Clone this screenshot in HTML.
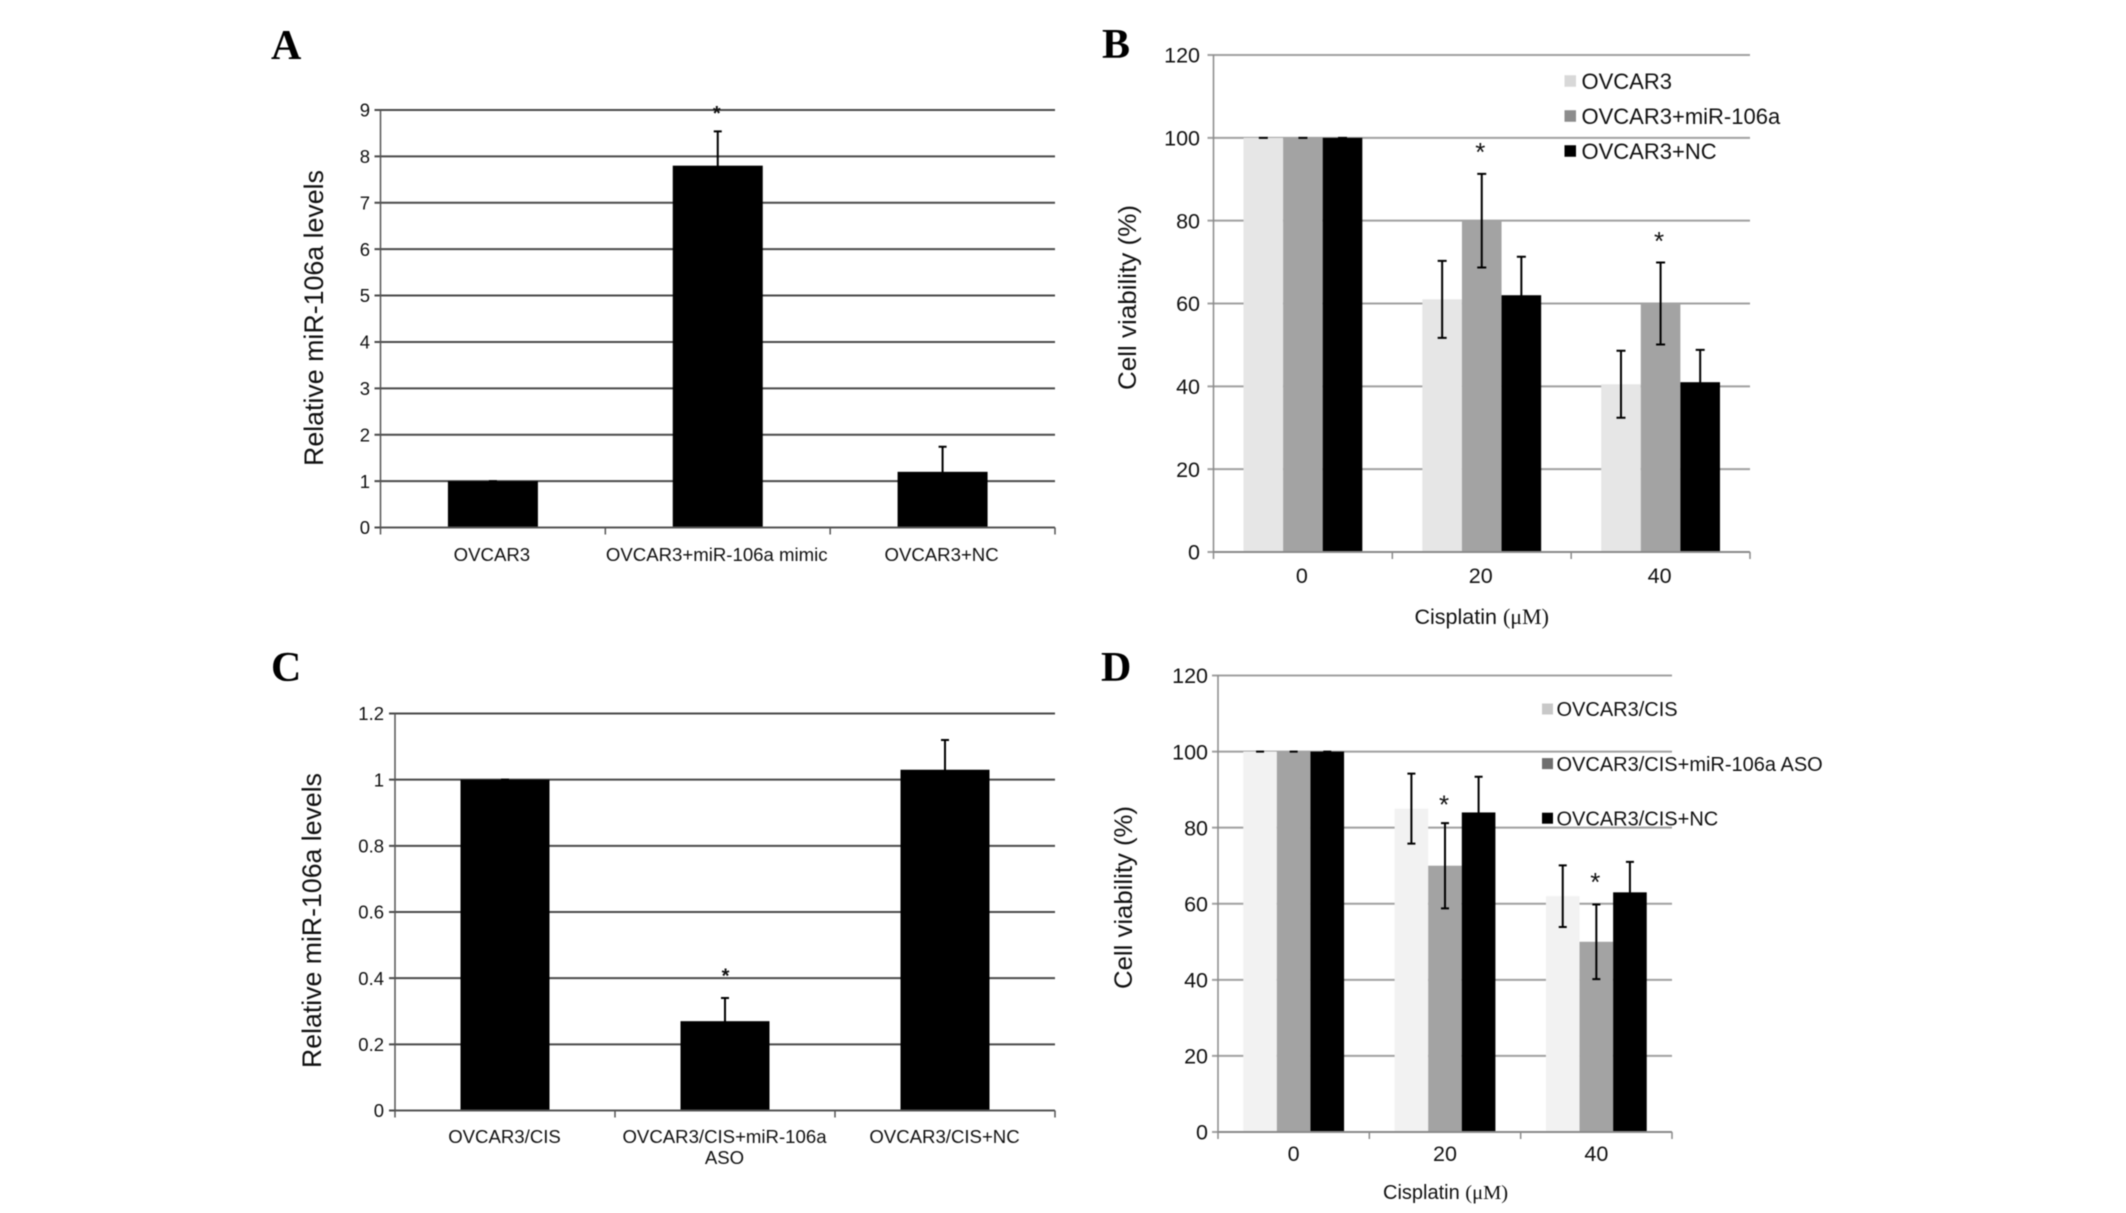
<!DOCTYPE html>
<html lang="en">
<head>
<meta charset="utf-8">
<title>miR-106a and cisplatin viability figure</title>
<style>
html,body{margin:0;padding:0;background:#fff;width:2126px;height:1213px;overflow:hidden}
svg{display:block;filter:blur(0.4px)}
text{font-family:"Liberation Sans",Arial,sans-serif;fill:#111}
.letter{font-family:"Liberation Serif",serif;font-weight:bold;font-size:42px;fill:#000}
.serif{font-family:"Liberation Serif",serif}
</style>
</head>
<body>
<svg id="figure" xmlns="http://www.w3.org/2000/svg" width="2126" height="1213" viewBox="0 0 2126 1213">
  <rect width="2126" height="1213" fill="#fff"/>

  <g id="panel-a">
    <text class="letter" x="271" y="59">A</text>
    <text transform="translate(323,466) rotate(-90)" font-size="26.5" textLength="296" lengthAdjust="spacingAndGlyphs">Relative miR-106a levels</text>
  </g>
  <g id="panel-b">
    <text class="letter" x="1102" y="58">B</text>
    <text transform="translate(1136,390) rotate(-90)" font-size="25" textLength="185" lengthAdjust="spacingAndGlyphs">Cell viability (%)</text>
    <text x="1414.5" y="624" font-size="21.5">Cisplatin <tspan class="serif" font-size="22">(μM)</tspan></text>
  </g>
  <g id="panel-c">
    <text class="letter" x="271" y="681">C</text>
    <text transform="translate(321,1068) rotate(-90)" font-size="26.5" textLength="295" lengthAdjust="spacingAndGlyphs">Relative miR-106a levels</text>
  </g>
  <g id="panel-d">
    <text class="letter" x="1101" y="681">D</text>
    <text transform="translate(1132,989) rotate(-90)" font-size="25" textLength="183" lengthAdjust="spacingAndGlyphs">Cell viability (%)</text>
    <text x="1383" y="1199" font-size="20">Cisplatin <tspan class="serif" font-size="20.5">(μM)</tspan></text>
  </g>
</svg>

<script>
// Panel A data
const categoriesA = ['OVCAR3', 'OVCAR3+miR-106a mimic', 'OVCAR3+NC'];
const tickLabelsA = ['0', '1', '2', '3', '4', '5', '6', '7', '8', '9'];
const valuesA = [1, 7.8, 1.2];
const errorsA = [0, 0.74, 0.54];
const starCategoriesA = [1];
const starValuesA = [9.03];

// Panel B data
const categoriesB = ['0', '20', '40'];
const tickLabelsB = ['0', '20', '40', '60', '80', '100', '120'];
const legendNamesB = ['OVCAR3', 'OVCAR3+miR-106a', 'OVCAR3+NC'];
const valuesOvcar3 = [100, 61, 40.5];
const errorsOvcar3 = [0, 9.3, 8.1];
const valuesOvcar3Mir = [100, 80, 60];
const errorsOvcar3Mir = [0, 11.3, 9.9];
const valuesOvcar3Nc = [100, 62, 41];
const errorsOvcar3Nc = [0, 9.3, 7.8];
const starCategoriesB = [1, 2];
const starValuesB = [98, 76.5];

// Panel C data
const categoriesC = ['OVCAR3/CIS', 'OVCAR3/CIS+miR-106a|ASO', 'OVCAR3/CIS+NC'];
const tickLabelsC = ['0', '0.2', '0.4', '0.6', '0.8', '1', '1.2'];
const valuesC = [1, 0.27, 1.03];
const errorsC = [0, 0.07, 0.09];
const starCategoriesC = [1];
const starValuesC = [0.422];

// Panel D data
const categoriesD = ['0', '20', '40'];
const tickLabelsD = ['0', '20', '40', '60', '80', '100', '120'];
const legendNamesD = ['OVCAR3/CIS', 'OVCAR3/CIS+miR-106a ASO', 'OVCAR3/CIS+NC'];
const valuesCis = [100, 85, 62];
const errorsCis = [0, 9.2, 8.1];
const valuesCisAso = [100, 70, 50];
const errorsCisAso = [0, 11.2, 9.8];
const valuesCisNc = [100, 84, 63];
const errorsCisNc = [0, 9.4, 8];
const starCategoriesD = [1, 2];
const starValuesD = [87.7, 67.3];

const SVG_NS = 'http://www.w3.org/2000/svg';

function mk(parent, tag, attrs, content) {
  const el = document.createElementNS(SVG_NS, tag);
  for (const key in attrs) el.setAttribute(key, attrs[key]);
  if (content !== undefined) el.textContent = content;
  parent.appendChild(el);
  return el;
}

function drawPanel(panelId, frame, tickLabels, categories, series, starCategories, starValues) {
  const parent = document.getElementById(panelId);
  const yMax = Math.max.apply(null, tickLabels.map(Number));
  const yScale = function (v) { return frame.bottom - (v / yMax) * (frame.bottom - frame.top); };
  const catWidth = (frame.right - frame.left) / categories.length;
  const groupWidth = series.length * frame.barWidth;
  const barX = function (c, s) { return frame.left + catWidth * c + (catWidth - groupWidth) / 2 + s * frame.barWidth; };

  // gridlines + y tick labels
  tickLabels.forEach(function (label) {
    const y = yScale(Number(label));
    const grid = mk(parent, 'line', {x1: frame.left - 6, x2: frame.right, y1: y, y2: y, stroke: frame.gridColor, 'stroke-width': frame.gridWidth});
    
    
    const tick = mk(parent, 'text', {x: frame.tickRight, y: y + frame.tickFont * 0.36, 'text-anchor': 'end', 'font-size': frame.tickFont}, label);
    
    
  });

  // bars
  series.forEach(function (s, si) {
    s.values.forEach(function (v, c) {
      const rect = mk(parent, 'rect', {x: barX(c, si), y: yScale(v), width: frame.barWidth, height: yScale(0) - yScale(v), fill: s.fill});
      
      
    });
  });

  // axes
  const yAxis = mk(parent, 'line', {x1: frame.left, x2: frame.left, y1: frame.top, y2: frame.bottom, stroke: frame.axisColor, 'stroke-width': frame.axisWidth});
  
  
  const xAxis = mk(parent, 'line', {x1: frame.left, x2: frame.right, y1: frame.bottom, y2: frame.bottom, stroke: frame.axisColor, 'stroke-width': frame.gridWidth});
  
  
  for (let i = 0; i <= categories.length; i++) {
    const x = frame.left + catWidth * i;
    const mark = mk(parent, 'line', {x1: x, x2: x, y1: frame.bottom, y2: frame.bottom + 7, stroke: frame.axisColor, 'stroke-width': frame.axisWidth});
    
    
  }

  // error bars
  series.forEach(function (s, si) {
    s.errors.forEach(function (e, c) {
      const cx = barX(c, si) + frame.barWidth / 2;
      const top = yScale(s.values[c] + e);
      const low = yScale(s.values[c] - e);
      const d = 'M' + cx + ' ' + low + 'V' + top + 'M' + (cx - frame.cap) + ' ' + top + 'H' + (cx + frame.cap) + 'M' + (cx - frame.cap) + ' ' + low + 'H' + (cx + frame.cap);
      const err = mk(parent, 'path', {d: d, stroke: '#000', 'stroke-width': 2, fill: 'none'});
      
      
    });
  });

  // category labels
  categories.forEach(function (label, c) {
    const cx = frame.left + catWidth * (c + 0.5) + frame.labelShift;
    label.split('|').forEach(function (line, li) {
      const t = mk(parent, 'text', {x: cx, y: frame.labelY + li * frame.labelLine, 'text-anchor': 'middle', 'font-size': frame.labelFont}, line);
      
      
    });
  });

  // significance stars
  starValues.forEach(function (v, i) {
    const cx = frame.left + catWidth * (starCategories[i] + 0.5) + frame.starShift;
    const star = mk(parent, 'text', {x: cx, y: yScale(v) + frame.starFont * 0.58, 'text-anchor': 'middle', 'font-size': frame.starFont, 'font-weight': frame.starWeight}, '*');
    
    
  });

  // legend
  if (frame.legend) {
    series.forEach(function (s, si) {
      const yc = frame.legend.top + si * frame.legend.step;
      const swatch = mk(parent, 'rect', {x: frame.legend.x, y: yc - frame.legend.size / 2, width: frame.legend.size, height: frame.legend.size, fill: s.legendFill});
      
      
      const t = mk(parent, 'text', {x: frame.legend.textX, y: yc + frame.legend.font * 0.36, 'font-size': frame.legend.font}, s.name);
      
      
    });
  }
}

drawPanel('panel-a',
  {left: 380.5, right: 1055, top: 110, bottom: 527.5, barWidth: 90, cap: 4, gridColor: '#4a4a4a', gridWidth: 2, axisColor: '#555', axisWidth: 1.5,
   tickRight: 370, tickFont: 18.5, labelY: 561, labelLine: 21, labelFont: 18.6, labelShift: -1, starFont: 20, starShift: -1, starWeight: 'bold'},
  tickLabelsA, categoriesA,
  [{name: 'miR-106a', values: valuesA, errors: errorsA, fill: '#000', legendFill: '#000'}],
  starCategoriesA, starValuesA);

drawPanel('panel-b',
  {left: 1213.5, right: 1750, top: 55, bottom: 552, barWidth: 39.6, cap: 4.5, gridColor: '#a0a0a0', gridWidth: 2, axisColor: '#8a8a8a', axisWidth: 1.5,
   tickRight: 1200, tickFont: 21.5, labelY: 583, labelLine: 24, labelFont: 21.5, labelShift: -1, starFont: 26, starShift: -1.5, starWeight: 'normal',
   legend: {x: 1564.5, top: 81, step: 35, size: 11.5, textX: 1581.5, font: 22}},
  tickLabelsB, categoriesB,
  [{name: legendNamesB[0], values: valuesOvcar3, errors: errorsOvcar3, fill: '#e6e6e6', legendFill: '#d8d8d8'},
   {name: legendNamesB[1], values: valuesOvcar3Mir, errors: errorsOvcar3Mir, fill: '#a3a3a3', legendFill: '#8c8c8c'},
   {name: legendNamesB[2], values: valuesOvcar3Nc, errors: errorsOvcar3Nc, fill: '#000', legendFill: '#000'}],
  starCategoriesB, starValuesB);

drawPanel('panel-c',
  {left: 395, right: 1055, top: 713.5, bottom: 1110.5, barWidth: 89, cap: 4, gridColor: '#4a4a4a', gridWidth: 2, axisColor: '#555', axisWidth: 1.5,
   tickRight: 384, tickFont: 18.5, labelY: 1143, labelLine: 21, labelFont: 18.6, labelShift: -0.5, starFont: 20, starShift: 0.5, starWeight: 'bold'},
  tickLabelsC, categoriesC,
  [{name: 'miR-106a', values: valuesC, errors: errorsC, fill: '#000', legendFill: '#000'}],
  starCategoriesC, starValuesC);

drawPanel('panel-d',
  {left: 1218, right: 1672, top: 675.5, bottom: 1132, barWidth: 33.6, cap: 4, gridColor: '#a0a0a0', gridWidth: 2, axisColor: '#8a8a8a', axisWidth: 1.5,
   tickRight: 1208, tickFont: 21.5, labelY: 1161, labelLine: 24, labelFont: 21.5, labelShift: 0, starFont: 26, starShift: -1, starWeight: 'normal',
   legend: {x: 1542, top: 709, step: 54.6, size: 11, textX: 1556.5, font: 20}},
  tickLabelsD, categoriesD,
  [{name: legendNamesD[0], values: valuesCis, errors: errorsCis, fill: '#f2f2f2', legendFill: '#c8c8c8'},
   {name: legendNamesD[1], values: valuesCisAso, errors: errorsCisAso, fill: '#a3a3a3', legendFill: '#6e6e6e'},
   {name: legendNamesD[2], values: valuesCisNc, errors: errorsCisNc, fill: '#000', legendFill: '#000'}],
  starCategoriesD, starValuesD);
</script>
</body>
</html>
